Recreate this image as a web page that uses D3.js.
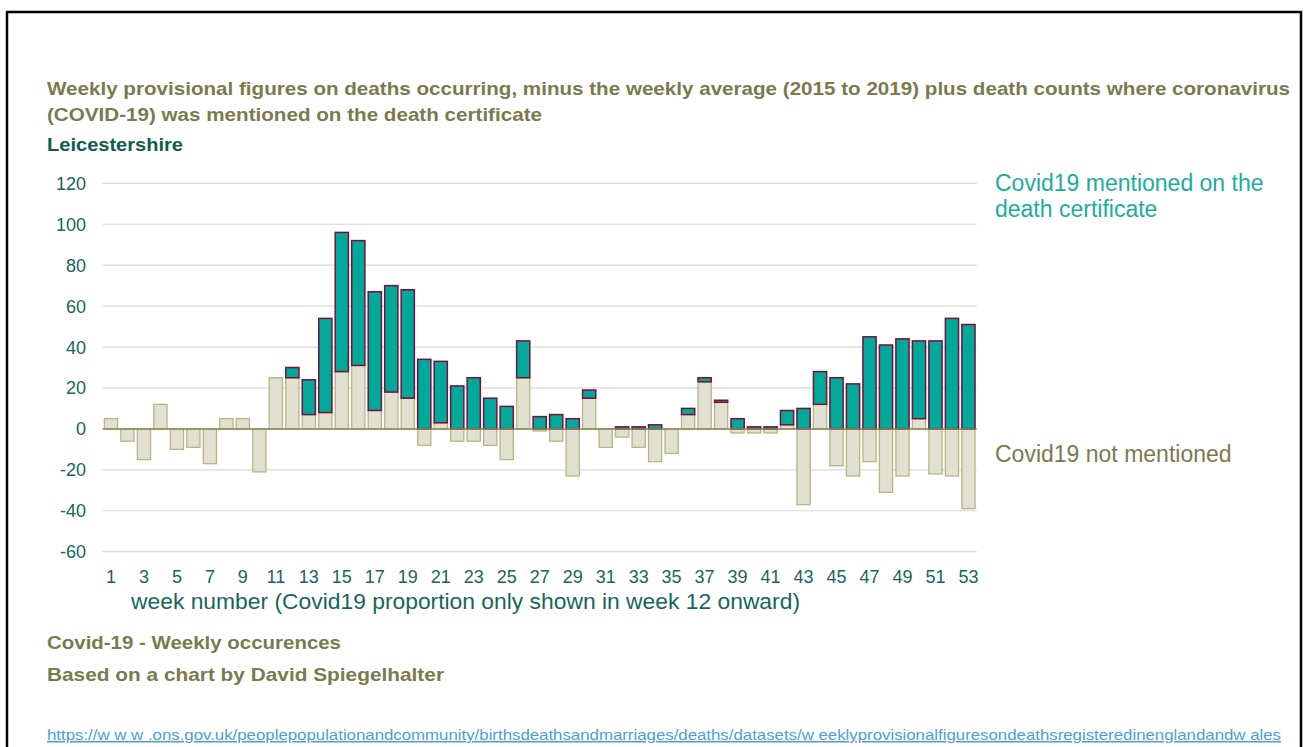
<!DOCTYPE html>
<html>
<head>
<meta charset="utf-8">
<script src="https://cdn.jsdelivr.net/npm/d3@7/dist/d3.min.js"></script>
<style>
  body { margin: 0; background: #fff; }
  svg { display: block; font-family: "Liberation Sans", Arial, sans-serif; }
</style>
</head>
<body>
<svg id="chart" width="1305" height="747"></svg>
<script>
// week numbers
var weeks = d3.range(1, 54);

// deaths minus 2015-2019 weekly average, covid not mentioned
var notMentioned = [5, -6, -15, 12, -10, -9, -17, 5, 5, -21, 25, 25, 7, 8, 28, 31, 9, 18, 15, -8,
  3, -6, -6, -8, -15, 25, -1, -6, -23, 15, -9, -4, -9, -16, -12, 7, 23, 13, -2, -2,
  -2, 2, -37, 12, -18, -23, -16, -31, -23, 5, -22, -23, -39];

// deaths with covid19 mentioned on the certificate
var covid = [0, 0, 0, 0, 0, 0, 0, 0, 0, 0, 0, 5, 17, 46, 68, 61, 58, 52, 53, 34,
  30, 21, 25, 15, 11, 18, 6, 7, 5, 4, 0, 1, 1, 2, 0, 3, 2, 1, 5, 1,
  1, 7, 10, 16, 25, 22, 45, 41, 44, 38, 43, 54, 51];

var yTicks = [-60, -40, -20, 0, 20, 40, 60, 80, 100, 120];

var svg = d3.select("#chart");

// frame
svg.append("path")
    .attr("d", "M7,747 V12 H1301 V747")
    .attr("fill", "none")
    .attr("stroke", "#000")
    .attr("stroke-width", 2.5);

var x = d3.scaleBand()
    .domain(weeks)
    .range([102.7, 976.7])
    .paddingInner(0.2)
    .paddingOuter(0.1);

var y = d3.scaleLinear()
    .domain([-60, 120])
    .range([551.7, 183.3]);

// gridlines
svg.append("g")
  .selectAll("line")
    .data(yTicks)
  .enter().append("line")
    .attr("x1", 102.7)
    .attr("x2", 976.7)
    .attr("y1", function(d) { return y(d); })
    .attr("y2", function(d) { return y(d); })
    .attr("stroke", "#d9d9d9")
    .attr("stroke-width", 1.2);

// y tick labels
svg.append("g")
  .selectAll("text")
    .data(yTicks)
  .enter().append("text")
    .attr("x", 86)
    .attr("y", function(d) { return y(d) + 6.5; })
    .attr("text-anchor", "end")
    .attr("fill", "#17665d")
    .style("font-size", "18px")
    .text(function(d) { return d; });

var rows = weeks.map(function(w, i) {
  return {week: w, nm: notMentioned[i], cv: covid[i]};
});

// covid not mentioned
svg.append("g")
  .selectAll("rect")
    .data(rows)
  .enter().append("rect")
    .attr("x", function(d) { return x(d.week); })
    .attr("width", x.bandwidth())
    .attr("y", function(d) { return y(Math.max(0, d.nm)); })
    .attr("height", function(d) { return Math.abs(y(d.nm) - y(0)); })
    .attr("fill", "#e2e1d1")
    .attr("stroke", "#b6b584")
    .attr("stroke-width", 1.3);

// covid mentioned, stacked on the positive part
svg.append("g")
  .selectAll("rect")
    .data(rows.filter(function(d) { return d.cv > 0; }))
  .enter().append("rect")
    .attr("x", function(d) { return x(d.week); })
    .attr("width", x.bandwidth())
    .attr("y", function(d) { return y(Math.max(0, d.nm) + d.cv); })
    .attr("height", function(d) { return y(0) - y(d.cv); })
    .attr("fill", "#00a99a")
    .attr("stroke", "#7a0f38")
    .attr("stroke-width", 1.5);

// zero line
svg.append("line")
    .attr("x1", 102.7)
    .attr("x2", 976.7)
    .attr("y1", y(0))
    .attr("y2", y(0))
    .attr("stroke", "#86865a")
    .attr("stroke-width", 1.5);

// x tick labels, odd weeks only
svg.append("g")
  .selectAll("text")
    .data(weeks.filter(function(w) { return w % 2 === 1; }))
  .enter().append("text")
    .attr("x", function(d) { return x(d) + x.bandwidth() / 2; })
    .attr("y", 583)
    .attr("text-anchor", "middle")
    .attr("fill", "#17665d")
    .style("font-size", "18px")
    .text(function(d) { return d; });

svg.append("text")
    .attr("x", 131)
    .attr("y", 609)
    .attr("fill", "#17665d")
    .attr("textLength", 669)
    .attr("lengthAdjust", "spacingAndGlyphs")
    .style("font-size", "22px")
    .text("week number (Covid19 proportion only shown in week 12 onward)");

// bold texts: [text, y, width, colour]
var olive = "#7b7a4e";
var boldTexts = [
  ["Weekly provisional figures on deaths occurring, minus the weekly average (2015 to 2019) plus death counts where coronavirus", 95, 1243, olive],
  ["(COVID-19) was mentioned on the death certificate", 121, 495, olive],
  ["Leicestershire", 151, 136, "#0f5c52"],
  ["Covid-19 - Weekly occurences", 649, 294, olive],
  ["Based on a chart by David Spiegelhalter", 681, 397, olive]
];
svg.append("g")
  .selectAll("text")
    .data(boldTexts)
  .enter().append("text")
    .attr("x", 47)
    .attr("y", function(d) { return d[1]; })
    .attr("textLength", function(d) { return d[2]; })
    .attr("lengthAdjust", "spacingAndGlyphs")
    .attr("fill", function(d) { return d[3]; })
    .style("font-size", "19px")
    .style("font-weight", "bold")
    .text(function(d) { return d[0]; });

// series labels
svg.append("text")
    .attr("x", 995).attr("y", 191)
    .attr("fill", "#1aae9e")
    .style("font-size", "23px")
    .text("Covid19 mentioned on the");
svg.append("text")
    .attr("x", 995).attr("y", 217)
    .attr("fill", "#1aae9e")
    .style("font-size", "23px")
    .text("death certificate");
svg.append("text")
    .attr("x", 995).attr("y", 462)
    .attr("fill", olive)
    .style("font-size", "23px")
    .text("Covid19 not mentioned");

// source link
svg.append("text")
    .attr("x", 47).attr("y", 740)
    .attr("fill", "#4a9fd6")
    .attr("textLength", 1234)
    .attr("lengthAdjust", "spacingAndGlyphs")
    .style("font-size", "15px")
    .style("text-decoration", "underline")
    .text("https://w w w .ons.gov.uk/peoplepopulationandcommunity/birthsdeathsandmarriages/deaths/datasets/w eeklyprovisionalfiguresondeathsregisteredinenglandandw ales");
</script>
</body>
</html>
